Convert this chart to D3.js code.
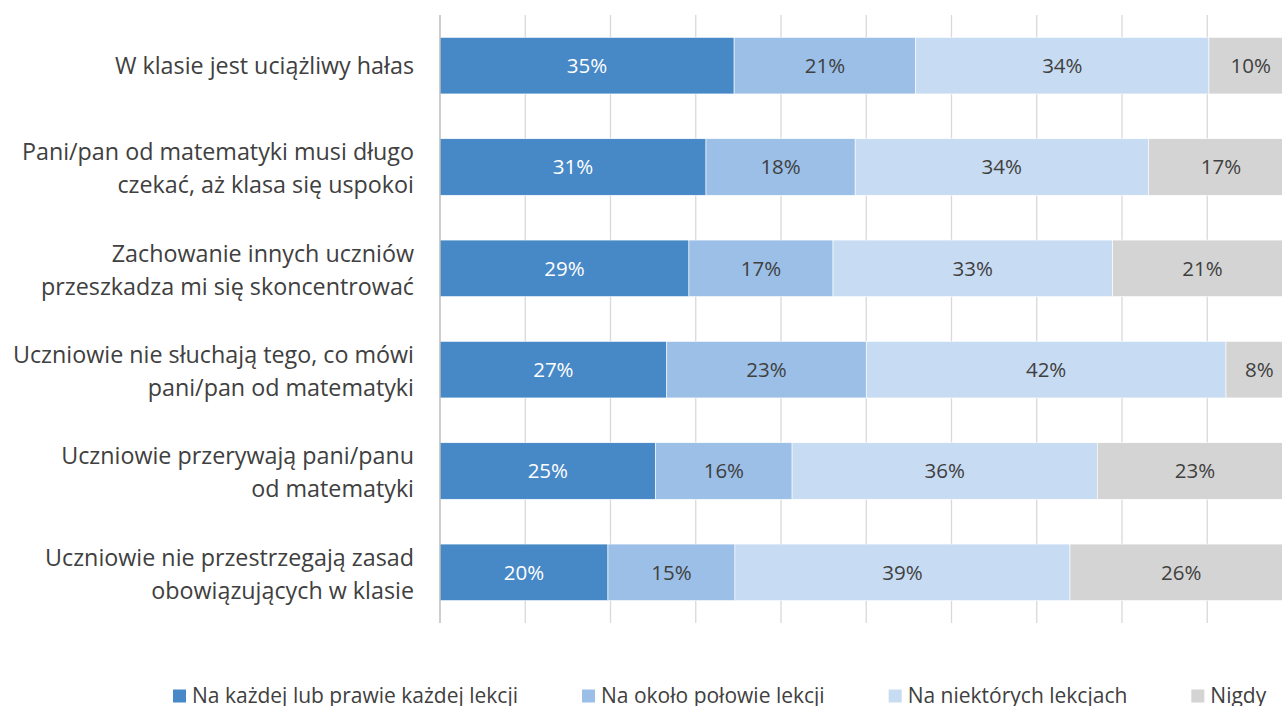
<!DOCTYPE html>
<html>
<head>
<meta charset="utf-8">
<script src="https://cdn.jsdelivr.net/npm/d3@7"></script>
<style>
  html, body { margin: 0; padding: 0; background: #fff; }
  svg { display: block; }
</style>
</head>
<body>
<svg id="chart" width="1282" height="706"></svg>
<script>
// ---- data ----
const categories = [
  "W klasie jest uciążliwy hałas",
  "Pani/pan od matematyki musi długo\nczekać, aż klasa się uspokoi",
  "Zachowanie innych uczniów\nprzeszkadza mi się skoncentrować",
  "Uczniowie nie słuchają tego, co mówi\npani/pan od matematyki",
  "Uczniowie przerywają pani/panu\nod matematyki",
  "Uczniowie nie przestrzegają zasad\nobowiązujących w klasie"
];
const seriesNames = [
  "Na każdej lub prawie każdej lekcji",
  "Na około połowie lekcji",
  "Na niektórych lekcjach",
  "Nigdy"
];
const everyLesson = [34.5, 31.2, 29.2, 26.6, 25.3, 19.7];
const halfLessons = [21.3, 17.5, 16.9, 23.4, 16.0, 14.9];
const someLessons = [34.4, 34.4, 32.8, 42.2, 35.8, 39.3];
const never       = [9.8, 17.0, 21.1, 7.8, 22.9, 26.1];
const xTicks = [0, 10, 20, 30, 40, 50, 60, 70, 80, 90, 100];

// ---- styles ----
const colors = ["#4788c7", "#9bbfe7", "#c7dbf2", "#d4d4d4"];
const labelColors = ["#ffffff", "#404040", "#404040", "#404040"];
const FONT = "'Open Sans', sans-serif";

const seriesArrays = [everyLesson, halfLessons, someLessons, never];
const keys = seriesNames;
const table = categories.map((c, i) => {
  const row = { cat: c };
  keys.forEach((k, j) => row[k] = seriesArrays[j][i]);
  return row;
});

const svg = d3.select("#chart");

const x = d3.scaleLinear().domain([0, 100]).range([440, 1292.5]);
const y = d3.scaleBand().domain(categories).range([15, 623])
  .paddingInner(0.442).paddingOuter(0.221);

// gridlines
svg.append("g").selectAll("line")
  .data(xTicks.filter(t => t > 0))
  .join("line")
  .attr("x1", d => x(d)).attr("x2", d => x(d))
  .attr("y1", y.range()[0]).attr("y2", y.range()[1])
  .attr("stroke", "#d9d9d9").attr("stroke-width", 1.3);

// stacked bars
const stack = d3.stack().keys(keys);
const stacked = stack(table);

const layers = svg.append("g").selectAll("g")
  .data(stacked)
  .join("g")
  .attr("fill", (d, i) => colors[i]);

layers.selectAll("rect")
  .data(d => d.map(p => ({ p, cat: p.data.cat })))
  .join("rect")
  .attr("x", d => x(d.p[0]))
  .attr("width", d => x(d.p[1]) - x(d.p[0]))
  .attr("y", d => y(d.cat))
  .attr("height", y.bandwidth())
  .attr("stroke", "#ffffff").attr("stroke-width", 0.6);

// data labels
stacked.forEach((layer, i) => {
  svg.append("g").selectAll("text")
    .data(layer)
    .join("text")
    .attr("x", d => x((d[0] + d[1]) / 2))
    .attr("y", d => y(d.data.cat) + y.bandwidth() / 2)
    .attr("dy", "0.36em")
    .attr("text-anchor", "middle")
    .attr("font-family", FONT)
    .attr("font-size", 20.5)
    .attr("fill", labelColors[i])
    .text(d => Math.round(d[1] - d[0]) + "%");
});

// left axis line
svg.append("line")
  .attr("x1", x(0)).attr("x2", x(0))
  .attr("y1", y.range()[0]).attr("y2", y.range()[1])
  .attr("stroke", "#b3b3b3").attr("stroke-width", 1.3);

// category labels
const yAxis = svg.append("g");
categories.forEach(c => {
  const lines = c.split("\n");
  const cy = y(c) + y.bandwidth() / 2;
  const pitch = 33;
  const t = yAxis.append("text")
    .attr("text-anchor", "end")
    .attr("font-family", FONT)
    .attr("font-size", 23.3)
    .attr("fill", "#404040");
  lines.forEach((ln, k) => {
    const off = (k - (lines.length - 1) / 2) * pitch;
    t.append("tspan")
      .attr("x", 414)
      .attr("y", cy + off)
      .attr("dy", lines.length > 1 ? "0.42em" : "0.36em")
      .text(ln);
  });
});

// legend
const legend = svg.append("g");
let lx = 173;
const gap = 64;
seriesNames.forEach((name, i) => {
  const g = legend.append("g").attr("transform", `translate(${lx},0)`);
  g.append("rect").attr("x", 0).attr("y", 689.5).attr("width", 13).attr("height", 13)
    .attr("fill", colors[i]);
  const t = g.append("text").attr("x", 19).attr("y", 703)
    .attr("font-family", FONT).attr("font-size", 21).attr("fill", "#404040")
    .text(name);
  const w = t.node().getComputedTextLength();
  lx += 19 + w + gap;
});
</script>
</body>
</html>
